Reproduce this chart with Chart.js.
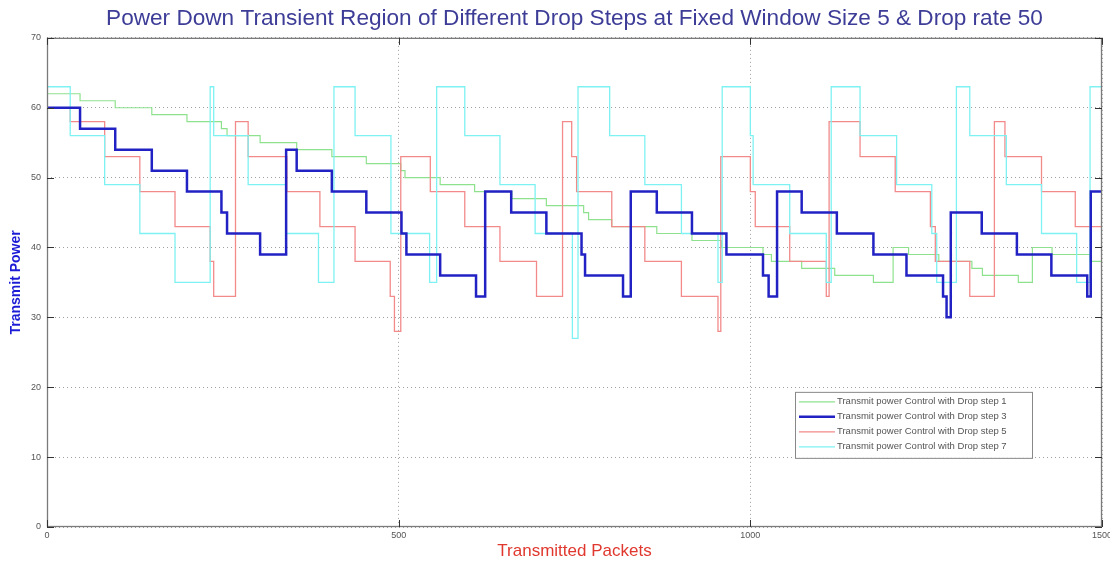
<!DOCTYPE html>
<html>
<head>
<meta charset="utf-8">
<script src="https://cdn.jsdelivr.net/npm/chart.js@4"></script>
<style>
html,body{margin:0;padding:0;background:#fff;}
#wrap{position:relative;width:1110px;height:567px;}
</style>
</head>
<body>
<div id="wrap"><canvas id="c" width="1110" height="567"></canvas></div>
<script>
// ---- text ----
const chartTitle = "Power Down Transient Region of Different Drop Steps at Fixed Window Size 5 & Drop rate 50";
const xAxisTitle = "Transmitted Packets";
const yAxisTitle = "Transmit Power";
const seriesLabels = [
  "Transmit power Control with Drop step 1",
  "Transmit power Control with Drop step 3",
  "Transmit power Control with Drop step 5",
  "Transmit power Control with Drop step 7"
];
const xTicks = [0, 500, 1000, 1500];
const yTicks = [0, 10, 20, 30, 40, 50, 60, 70];

// ---- data: packet index where a level starts, and the level ----
const step1X = [0, 47, 97, 149, 199, 248, 256, 303, 355, 405, 454, 503, 509, 559, 608, 661, 710, 763, 770, 803, 867, 917, 959, 1018, 1030, 1073, 1120, 1175, 1203, 1225, 1268, 1315, 1330, 1381, 1401, 1429, 1483, 1500];
const step1Y = [62, 61, 60, 59, 58, 57, 56, 55, 54, 53, 52, 51, 50, 49, 48, 47, 46, 45, 44, 43, 42, 41, 40, 39, 38, 37, 36, 35, 40, 39, 38, 37, 36, 35, 40, 39, 38, 38];

const step3X = [0, 47, 97, 149, 199, 248, 256, 303, 340, 355, 405, 454, 504, 511, 559, 610, 623, 660, 710, 760, 765, 819, 830, 867, 917, 966, 1018, 1026, 1038, 1073, 1123, 1175, 1222, 1274, 1279, 1285, 1329, 1379, 1428, 1479, 1484, 1500];
const step3Y = [60, 57, 54, 51, 48, 45, 42, 39, 54, 51, 48, 45, 42, 39, 36, 33, 48, 45, 42, 39, 36, 33, 48, 45, 42, 39, 36, 33, 48, 45, 42, 39, 36, 33, 30, 45, 42, 39, 36, 33, 48, 48];

const step5X = [0, 33, 82, 132, 182, 232, 237, 268, 286, 341, 388, 438, 488, 494, 503, 545, 594, 644, 696, 733, 746, 753, 803, 850, 902, 954, 958, 1000, 1007, 1056, 1108, 1112, 1156, 1206, 1256, 1263, 1312, 1347, 1362, 1414, 1462, 1500];
const step5Y = [60, 58, 53, 48, 43, 38, 33, 58, 53, 48, 43, 38, 33, 28, 53, 48, 43, 38, 33, 58, 53, 48, 43, 38, 33, 28, 53, 48, 43, 38, 33, 58, 53, 48, 43, 38, 33, 58, 53, 48, 43, 43];

const step7X = [0, 33, 82, 132, 182, 232, 237, 286, 340, 386, 408, 438, 489, 544, 554, 594, 644, 694, 747, 755, 800, 850, 902, 954, 960, 1000, 1004, 1056, 1108, 1115, 1156, 1208, 1258, 1265, 1293, 1312, 1364, 1414, 1464, 1483, 1500];
const step7Y = [63, 56, 49, 42, 35, 63, 56, 49, 42, 35, 63, 56, 42, 35, 63, 56, 49, 42, 27, 63, 56, 49, 42, 35, 63, 56, 49, 42, 35, 63, 56, 49, 42, 35, 63, 56, 49, 42, 35, 63, 63];

// ---- styles ----
const seriesColors = ['#8ee28e', '#2222c4', '#f28a8a', '#7ef2f2'];
const seriesWidths = [1.2, 2.5, 1.3, 1.3];
const seriesOrder = [3, 0, 2, 1];

function toPoints(xs, ys) { return xs.map((x, i) => ({ x: x, y: ys[i] })); }
const allX = [step1X, step3X, step5X, step7X];
const allY = [step1Y, step3Y, step5Y, step7Y];

const datasets = seriesLabels.map((lab, i) => ({
  label: lab,
  data: toPoints(allX[i], allY[i]),
  borderColor: seriesColors[i],
  backgroundColor: seriesColors[i],
  borderWidth: seriesWidths[i],
  pointRadius: 0,
  stepped: 'before',
  fill: false,
  order: seriesOrder[i]
}));

const framePlugin = {
  id: 'frameAndLegend',
  afterDatasetsDraw(chart) {
    const { ctx, chartArea: a, scales } = chart;
    ctx.save();
    // frame
    ctx.strokeStyle = '#7a7a7a';
    ctx.lineWidth = 1.3;
    ctx.strokeRect(a.left + 0.5, a.top + 0.5, a.right - a.left - 1, a.bottom - a.top - 1);
    // inward ticks
    ctx.strokeStyle = '#333';
    ctx.lineWidth = 1;
    ctx.beginPath();
    yTicks.forEach(v => {
      const y = Math.round(scales.y.getPixelForValue(v)) + 0.5;
      ctx.moveTo(a.left, y); ctx.lineTo(a.left + 7, y);
      ctx.moveTo(a.right, y); ctx.lineTo(a.right - 7, y);
    });
    xTicks.forEach(v => {
      const x = Math.round(scales.x.getPixelForValue(v)) + 0.5;
      ctx.moveTo(x, a.bottom); ctx.lineTo(x, a.bottom - 7);
      ctx.moveTo(x, a.top); ctx.lineTo(x, a.top + 7);
    });
    ctx.stroke();
    // legend box
    const bx = a.right - 307, by = a.top + 354, bw = 237, bh = 66;
    ctx.fillStyle = '#fff';
    ctx.fillRect(bx, by, bw, bh);
    ctx.strokeStyle = '#888';
    ctx.lineWidth = 1;
    ctx.strokeRect(bx + 0.5, by + 0.5, bw, bh);
    ctx.font = "9.5px 'Liberation Sans', Arial, sans-serif";
    ctx.textBaseline = 'middle';
    ctx.textAlign = 'left';
    seriesLabels.forEach((lab, i) => {
      const ry = by + 10 + i * 15;
      ctx.strokeStyle = seriesColors[i];
      ctx.lineWidth = seriesWidths[i];
      ctx.beginPath();
      ctx.moveTo(bx + 4, ry); ctx.lineTo(bx + 40, ry);
      ctx.stroke();
      ctx.fillStyle = '#555';
      ctx.fillText(lab, bx + 42, ry);
    });
    ctx.restore();
  }
};

new Chart(document.getElementById('c'), {
  type: 'line',
  data: { datasets: datasets },
  options: {
    responsive: false,
    animation: false,
    devicePixelRatio: 1,
    layout: { padding: { left: 0, right: 8, top: 0, bottom: 0 } },
    plugins: {
      legend: { display: false },
      tooltip: { enabled: false },
      title: {
        display: true,
        text: chartTitle,
        fullSize: false,
        color: '#3d3d98',
        font: { family: "'Liberation Sans', Arial, sans-serif", size: 22.6, weight: 'normal', lineHeight: 1.1 },
        padding: { top: 6, bottom: 7 }
      }
    },
    scales: {
      x: {
        type: 'linear',
        min: 0, max: 1500,
        afterBuildTicks: s => { s.ticks = xTicks.map(v => ({ value: v })); },
        ticks: {
          autoSkip: false, maxRotation: 0, padding: 3,
          color: '#555',
          callback: v => String(v),
          font: { family: "'Liberation Sans Narrow', 'Liberation Sans', Arial, sans-serif", size: 9 }
        },
        grid: { color: '#a0a0a0', lineWidth: 1, drawTicks: false },
        border: { display: false, dash: [1, 3] },
        title: {
          display: true, text: xAxisTitle, color: '#e0382e',
          font: { family: "'Liberation Sans', Arial, sans-serif", size: 17 },
          padding: { top: 0, bottom: 5 }
        },
        afterFit: s => { s.height = 40; s.paddingLeft = 0; s.paddingRight = 0; }
      },
      y: {
        type: 'linear',
        min: 0, max: 70,
        afterBuildTicks: s => { s.ticks = yTicks.map(v => ({ value: v })); },
        ticks: {
          padding: 6, color: '#555',
          callback: v => String(v),
          font: { family: "'Liberation Sans Narrow', 'Liberation Sans', Arial, sans-serif", size: 9 }
        },
        grid: { color: '#a0a0a0', lineWidth: 1, drawTicks: false },
        border: { display: false, dash: [1, 3] },
        title: {
          display: true, text: yAxisTitle, color: '#1c1cd6',
          font: { family: "'Liberation Sans', Arial, sans-serif", size: 14, weight: 'bold' },
          padding: { top: 8, bottom: 0 }
        },
        afterFit: s => { s.width = 47; s.paddingTop = 0; s.paddingBottom = 0; }
      }
    }
  },
  plugins: [framePlugin]
});
</script>
</body>
</html>
